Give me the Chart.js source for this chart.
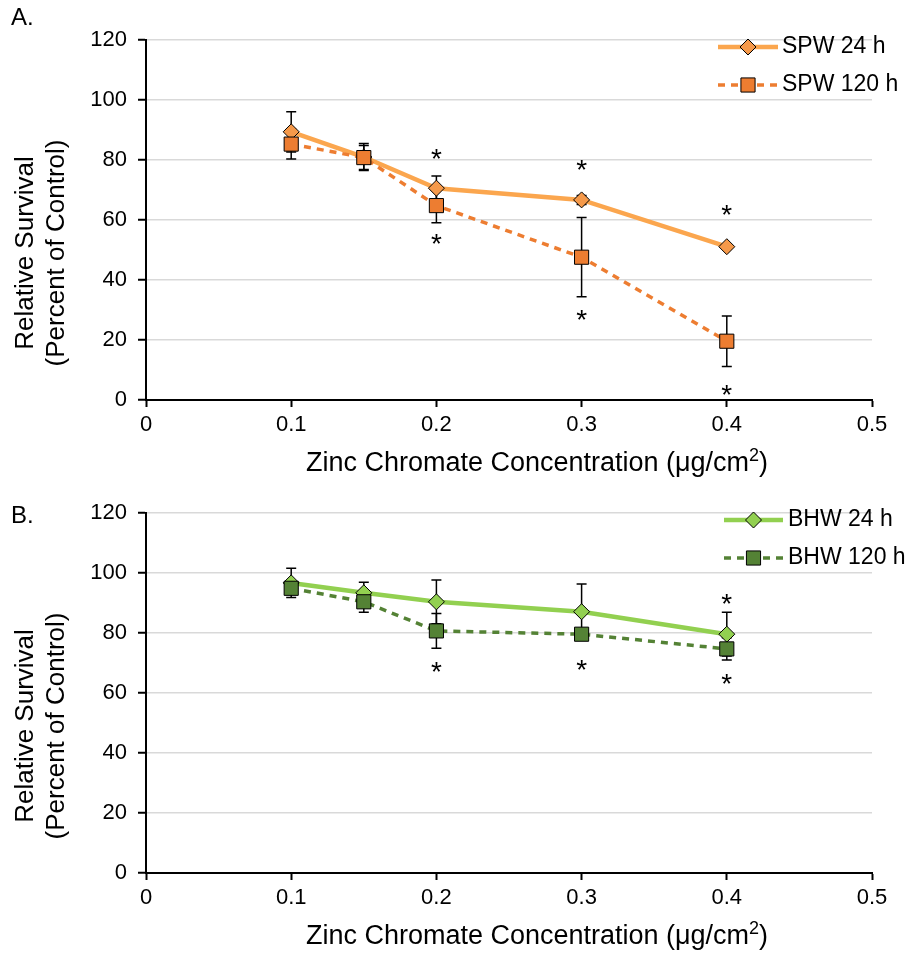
<!DOCTYPE html>
<html>
<head>
<meta charset="utf-8">
<script src="https://cdn.jsdelivr.net/npm/chart.js@4.4.1/dist/chart.umd.min.js"></script>
<style>
  html, body { margin: 0; padding: 0; background: #fff; }
  canvas { display: block; }
</style>
</head>
<body>
<canvas id="chartA" width="907" height="480"></canvas>
<canvas id="chartB" width="907" height="473"></canvas>
<script>
const doses = [0.1, 0.15, 0.2, 0.3, 0.4];
const xTicks = [0, 0.1, 0.2, 0.3, 0.4, 0.5];
const yTicks = [0, 20, 40, 60, 80, 100, 120];

const spw24 = [89.4, 81.0, 70.6, 66.7, 51.1];
const spw24Err = [6.7, 4.5, 4.1, 1.5, 0.8];
const spw120 = [85.3, 80.8, 64.8, 47.6, 19.6];
const spw120Err = [5.0, 4.0, 5.7, 13.2, 8.4];

const bhw24 = [96.7, 93.4, 90.4, 87.1, 79.6];
const bhw24Err = [4.9, 3.5, 7.3, 9.2, 7.3];
const bhw120 = [94.9, 90.4, 80.7, 79.6, 74.7];
const bhw120Err = [1.5, 3.5, 5.8, 1.5, 3.7];

// significance asterisks: [dose, height on the survival axis]
const spwStars = [[0.2, 82.8], [0.2, 54.4], [0.3, 79.1], [0.3, 28.9], [0.4, 63.9], [0.4, 3.9]];
const bhwStars = [[0.2, 69.3], [0.3, 70.1], [0.4, 92.1], [0.4, 65.4]];

const FONT = '"Liberation Sans", Arial, sans-serif';
Chart.defaults.font.family = FONT;
Chart.defaults.color = '#000';

function drawMarker(ctx, style, radius, x, y, fill) {
  ctx.beginPath();
  if (style === 'rectRot') {
    ctx.moveTo(x - radius, y);
    ctx.lineTo(x, y - radius);
    ctx.lineTo(x + radius, y);
    ctx.lineTo(x, y + radius);
    ctx.closePath();
  } else {
    const s = Math.SQRT1_2 * radius;
    ctx.rect(x - s, y - s, 2 * s, 2 * s);
  }
  ctx.fillStyle = fill;
  ctx.fill();
  ctx.lineWidth = 1;
  ctx.strokeStyle = '#000';
  ctx.stroke();
}

const extras = {
  id: 'extras',
  // error bars sit underneath the lines and markers
  beforeDatasetsDraw(chart) {
    const { ctx, scales: { x, y } } = chart;
    ctx.save();
    ctx.strokeStyle = '#000';
    ctx.lineWidth = 1.5;
    chart.data.datasets.forEach(ds => {
      ds.data.forEach((pt, i) => {
        const e = ds.errors[i];
        const px = x.getPixelForValue(pt.x);
        const hi = y.getPixelForValue(pt.y + e);
        const lo = y.getPixelForValue(pt.y - e);
        ctx.beginPath();
        ctx.moveTo(px, hi); ctx.lineTo(px, lo);
        ctx.moveTo(px - 5, hi); ctx.lineTo(px + 5, hi);
        ctx.moveTo(px - 5, lo); ctx.lineTo(px + 5, lo);
        ctx.stroke();
      });
    });
    ctx.restore();
  },
  afterDraw(chart, args, opts) {
    const { ctx, chartArea: area, scales: { x, y } } = chart;
    ctx.save();
    ctx.fillStyle = '#000';

    // asterisks
    ctx.font = '28px ' + FONT;
    ctx.textAlign = 'center';
    ctx.textBaseline = 'alphabetic';
    opts.stars.forEach(([d, v]) => {
      ctx.fillText('*', x.getPixelForValue(d), y.getPixelForValue(v) + 16);
    });

    // legend: line sample with marker, then label
    const lg = opts.legend;
    chart.data.datasets.forEach((ds, i) => {
      const ly = area.top + 7 + i * 38;
      ctx.save();
      ctx.strokeStyle = ds.borderColor;
      ctx.lineWidth = ds.borderWidth;
      ctx.setLineDash(ds.borderDash);
      ctx.beginPath();
      ctx.moveTo(lg.x0, ly);
      ctx.lineTo(lg.x1, ly);
      ctx.stroke();
      ctx.setLineDash([]);
      drawMarker(ctx, ds.pointStyle, ds.pointRadius, (lg.x0 + lg.x1) / 2, ly, ds.pointBackgroundColor);
      ctx.restore();
      ctx.font = '23px ' + FONT;
      ctx.textAlign = 'left';
      ctx.textBaseline = 'middle';
      ctx.fillText(ds.label, lg.textX, ly);
    });

    // panel letter
    ctx.font = '24px ' + FONT;
    ctx.textAlign = 'left';
    ctx.textBaseline = 'alphabetic';
    ctx.fillText(opts.letter, 11, opts.letterY);

    // y axis title, two lines
    ctx.save();
    ctx.font = '26px ' + FONT;
    ctx.textAlign = 'center';
    ctx.textBaseline = 'middle';
    const cy = (area.top + area.bottom) / 2 + 33;
    [['Relative Survival', 26], ['(Percent of Control)', 57]].forEach(([t, cx]) => {
      ctx.save();
      ctx.translate(cx, cy);
      ctx.rotate(-Math.PI / 2);
      ctx.fillText(t, 0, 0);
      ctx.restore();
    });
    ctx.restore();

    // x axis title with superscript
    const main = 'Zinc Chromate Concentration (\u03bcg/cm';
    const base = area.bottom + 71;
    ctx.font = '27px ' + FONT;
    const w1 = ctx.measureText(main).width;
    const w3 = ctx.measureText(')').width;
    ctx.font = '18px ' + FONT;
    const w2 = ctx.measureText('2').width;
    let tx = 537 - (w1 + w2 + w3) / 2;
    ctx.textAlign = 'left';
    ctx.font = '27px ' + FONT;
    ctx.fillText(main, tx, base);
    tx += w1;
    ctx.font = '18px ' + FONT;
    ctx.fillText('2', tx, base - 10);
    tx += w2;
    ctx.font = '27px ' + FONT;
    ctx.fillText(')', tx, base);

    ctx.restore();
  }
};

function buildPanel(cfg) {
  const datasets = cfg.series.map(s => ({
    label: s.label,
    data: doses.map((d, i) => ({ x: d, y: s.values[i] })),
    errors: s.errors,
    borderColor: s.line,
    borderWidth: s.width,
    borderDash: s.dash,
    borderCapStyle: 'butt',
    pointStyle: s.marker,
    pointRadius: s.radius,
    pointBackgroundColor: s.fill,
    pointBorderColor: '#000',
    pointBorderWidth: 1,
    tension: 0,
    order: s.order,
  }));

  return new Chart(document.getElementById(cfg.id), {
    type: 'line',
    data: { datasets },
    options: {
      responsive: false,
      animation: false,
      layout: { padding: { top: cfg.top, right: 35, left: 0, bottom: 0 } },
      plugins: {
        legend: { display: false },
        tooltip: { enabled: false },
        extras: { stars: cfg.stars, legend: cfg.legend, letter: cfg.letter, letterY: cfg.letterY },
      },
      scales: {
        x: {
          type: 'linear',
          min: xTicks[0],
          max: xTicks[xTicks.length - 1],
          afterBuildTicks: s => { s.ticks = xTicks.map(v => ({ value: v })); },
          ticks: { padding: 5, font: { size: 22 }, callback: v => String(+v.toFixed(2)) },
          grid: { drawOnChartArea: false, tickLength: 7, tickColor: '#000', tickWidth: 2 },
          border: { color: '#000', width: 2 },
          afterFit: s => { s.height = 80; },
        },
        y: {
          type: 'linear',
          min: yTicks[0],
          max: yTicks[yTicks.length - 1],
          afterBuildTicks: s => { s.ticks = yTicks.map(v => ({ value: v })); },
          ticks: { padding: 11, font: { size: 22 } },
          grid: { color: '#D9D9D9', lineWidth: 1.5, tickLength: 8, tickColor: '#000', tickWidth: 2 },
          border: { color: '#000', width: 2 },
          afterFit: s => { s.width = 146; },
        },
      },
    },
    plugins: [extras],
  });
}

buildPanel({
  id: 'chartA', top: 40, letter: 'A.', letterY: 25, stars: spwStars,
  legend: { x0: 718, x1: 778, textX: 782 },
  series: [
    { label: 'SPW 24 h', values: spw24, errors: spw24Err, line: '#FBA64E', fill: '#F5994A',
      marker: 'rectRot', radius: 8, width: 4.5, dash: [], order: 1 },
    { label: 'SPW 120 h', values: spw120, errors: spw120Err, line: '#ED7D31', fill: '#ED7D31',
      marker: 'rect', radius: 10, width: 3.5, dash: [7, 6], order: 0 },
  ],
});

buildPanel({
  id: 'chartB', top: 33, letter: 'B.', letterY: 43, stars: bhwStars,
  legend: { x0: 724, x1: 783, textX: 788 },
  series: [
    { label: 'BHW 24 h', values: bhw24, errors: bhw24Err, line: '#92D050', fill: '#92D050',
      marker: 'rectRot', radius: 8, width: 4.5, dash: [], order: 1 },
    { label: 'BHW 120 h', values: bhw120, errors: bhw120Err, line: '#548235', fill: '#548235',
      marker: 'rect', radius: 10, width: 3.5, dash: [7, 6], order: 0 },
  ],
});
</script>
</body>
</html>
